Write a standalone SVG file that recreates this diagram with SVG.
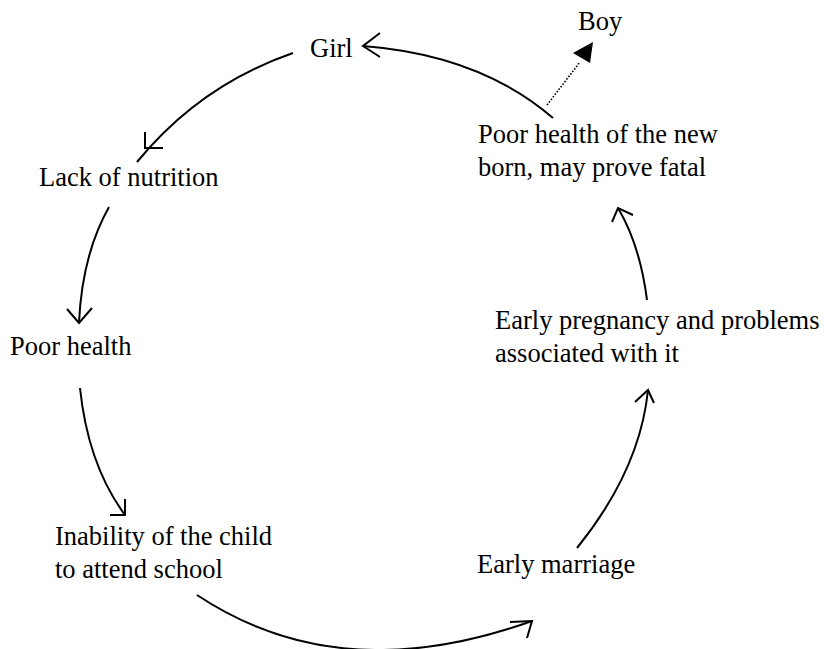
<svg xmlns="http://www.w3.org/2000/svg" width="824" height="649" viewBox="0 0 824 649">
<style>
.t{font-family:"Liberation Serif","Times New Roman",serif;font-size:26.5px;fill:#000}
.c{fill:none;stroke:#000;stroke-width:2}
.h{fill:none;stroke:#000;stroke-width:2;stroke-linecap:butt}
.d{fill:none;stroke:#000;stroke-width:1.6;stroke-dasharray:1.6 1.6}
</style>
<rect width="824" height="649" fill="#fff"/>
<g id="girl"><text class="t" x="310" y="57">Girl</text></g>
<g id="boy"><text class="t" x="578" y="30">Boy</text></g>
<g id="lack"><text class="t" x="39" y="186">Lack of nutrition</text></g>
<g id="poorhealth"><text class="t" x="10" y="355">Poor health</text></g>
<g id="inability"><text class="t" x="55" y="545">Inability of the child</text><text class="t" x="55" y="578">to attend school</text></g>
<g id="marriage"><text class="t" x="477" y="573">Early marriage</text></g>
<g id="pregnancy"><text class="t" x="495" y="329">Early pregnancy and problems</text><text class="t" x="495" y="362">associated with it</text></g>
<g id="newborn"><text class="t" x="478" y="143">Poor health of the new</text><text class="t" x="478" y="176">born, may prove fatal</text></g>
<g id="connectors">
<path class="c" d="M553,118 Q480,55 363,46"/>
<polyline class="h" points="380,33 363,46 380,57"/>
<path class="c" d="M293,53 Q200,85 137,162"/>
<polyline class="h" points="145,132 145,148 163,148"/>
<path class="c" d="M109,207 Q82,255 79,323"/>
<polyline class="h" points="67,309 79,323 92,308"/>
<path class="c" d="M80,388 Q88,465 125,515"/>
<polyline class="h" points="125,499 125,515 110,515"/>
<path class="c" d="M197,595 Q340,690 532,621"/>
<polyline class="h" points="510,622 532,621 527,638"/>
<path class="c" d="M577,548 Q640,470 648,390"/>
<polyline class="h" points="635,402 648,390 654,403"/>
<path class="c" d="M647,300 Q640,245 618,208"/>
<polyline class="h" points="612,222 618,208 633,215"/>
<path class="d" d="M547,105 L580,62"/>
<polygon points="573,53 593,42 590,63" fill="#000"/>
</g>
</svg>
